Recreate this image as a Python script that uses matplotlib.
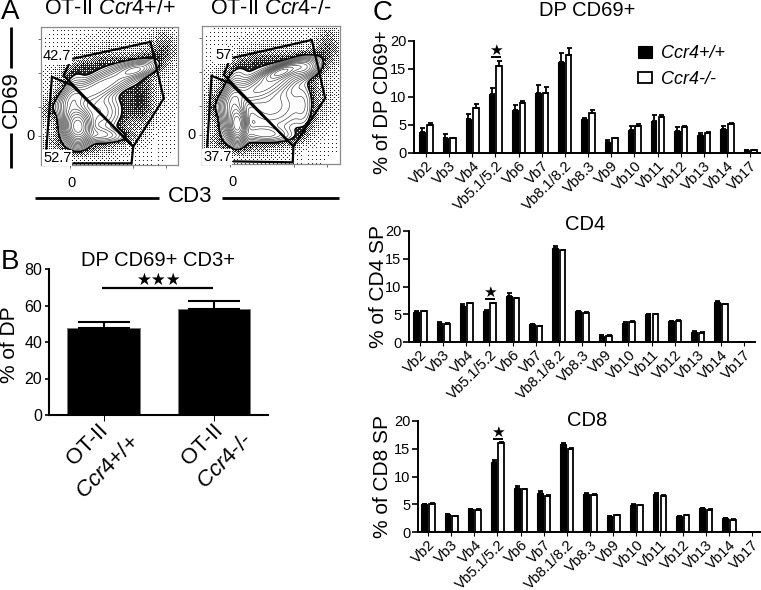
import numpy as np
import matplotlib
matplotlib.use("Agg")
import matplotlib.pyplot as plt
from matplotlib.transforms import ScaledTranslation

W, H = 761, 590

plt.rcParams["font.family"] = ["Liberation Sans", "DejaVu Sans"]
plt.rcParams["mathtext.fontset"] = "custom"
plt.rcParams["mathtext.rm"] = "Liberation Sans"
plt.rcParams["mathtext.it"] = "Liberation Sans:italic"

# ---- panel A: gates (percent of plot width / height) ----
gate_hi_wt = [(23.7, 77.1), (79.9, 89.2), (89.6, 48.2), (67.3, 13.3), (16.5, 65), (20.1, 72.3)]
gate_lo_wt = [(3.9, 12), (8, 63.9), (22.5, 57.8), (67.3, 13.3), (66.1, 1.2), (23.7, 1.2)]
gate_hi_ko = [(23.5, 77.1), (79.9, 89.9), (89.6, 47.7), (66.6, 12.8), (16.2, 64.6), (19.4, 73)]
gate_lo_ko = [(4.1, 12.8), (7.3, 63.9), (20.6, 58.6), (66.6, 12.8), (66.1, 1.2), (23.5, 1.9)]

# density blobs: cx, cy, sx, sy, angle, weight
blobs_wt = [(27, 28, 5, 7, 0, 1.0), (22, 42, 5, 12, -10, .2), (45, 58, 21, 5, 25, .25),
            (70, 69, 8, 3, 12, .2), (43, 22, 12, 3.5, -5, .14), (42, 38, 10, 9, 0, .14),
            (50, 52, 32, 24, 35, .03), (73, 46, 6, 11, 0, .035), (38, 72, 16, 5, 15, .025),
            (90, 87, 7, 9, 0, .03), (25, 15, 16, 6, 0, .03), (50, 50, 45, 40, 0, .012)]
blobs_ko = [(26, 29, 3.5, 7, 0, 1.0), (22, 42, 4.5, 12, -10, .3), (48, 58, 20, 5, 25, .3),
            (58, 67, 8, 2.5, 20, .5), (75, 70, 6, 4, 10, .25), (45, 22, 13, 3.5, -5, .14),
            (50, 42, 16, 12, 0, .16), (50, 52, 32, 24, 35, .03), (74, 42, 4, 12, 0, .05),
            (38, 72, 16, 5, 15, .025), (92, 88, 6, 9, 0, .03), (25, 15, 16, 6, 0, .03),
            (50, 50, 45, 40, 0, .012)]

# ordered dither matrix used for the stippled outer events
bayer = [[0, 8, 2, 10], [12, 4, 14, 6], [3, 11, 1, 9], [15, 7, 13, 5]]

# ---- panel B ----
b_values = [47.5, 58]
b_errors = [3.5, 4.5]

# ---- panel C ----
vb = ["Vb2", "Vb3", "Vb4", "Vb5.1/5.2", "Vb6", "Vb7", "Vb8.1/8.2", "Vb8.3", "Vb9",
      "Vb10", "Vb11", "Vb12", "Vb13", "Vb14", "Vb17"]

dp_wt = [3.8, 2.7, 6.1, 10.6, 7.7, 10.8, 16.2, 6, 2, 4.1, 5.8, 4, 3.3, 4.3, 0.5]
dp_ko = [5, 2.6, 8, 15.5, 9, 10.8, 17.5, 7.2, 2.6, 4.8, 6.5, 4.6, 3.5, 5.1, 0.5]
dp_wt_err = [.7, .7, .9, 1, .8, 1.4, 1.7, .2, .3, .7, .9, .7, .3, .6, .1]
dp_ko_err = [.3, .1, .7, 1, .3, .9, 1.2, .4, .1, .3, .2, .2, .2, .2, .1]

cd4_wt = [5.4, 3.5, 6.5, 5.6, 8.2, 3.2, 17, 5.5, 1.1, 3.5, 5, 3.7, 1.8, 7.2, 0]
cd4_ko = [5.5, 3.3, 7, 7, 7.9, 2.8, 16.5, 5.3, 1.1, 3.6, 5, 3.8, 1.7, 6.8, 0]
cd4_wt_err = [.1, .1, .4, .1, .6, .1, .3, .1, .1, .1, .1, .1, .1, .2, 0]
cd4_ko_err = [.1, .1, .1, .1, .1, .1, .1, .1, .1, .1, .1, .1, .1, .1, 0]

cd8_wt = [5, 3.2, 4.1, 12.6, 8, 7.1, 15.8, 6.9, 2.8, 4.8, 6.8, 2.8, 4.3, 2.5, 0]
cd8_ko = [5.1, 2.8, 4, 16, 7.7, 6.5, 15, 6.7, 3, 4.8, 6.4, 3, 4, 2.2, 0]
cd8_wt_err = [.1, .1, .1, .4, .2, .3, .3, .1, .1, .3, .2, .1, .1, .1, 0]
cd8_ko_err = [.1, .1, .1, .2, .1, .1, .2, .1, .1, .1, .2, .1, .1, .1, 0]


def px_axes(fig, left, top, right, bottom):
    return fig.add_axes([left / W, 1 - bottom / H, (right - left) / W, (bottom - top) / H])


def density(blobs, n=140):
    xx, yy = np.meshgrid(np.linspace(0, 100, n), np.linspace(0, 100, n))
    z = np.zeros_like(xx)
    for cx, cy, sx, sy, ang, w in blobs:
        t = np.deg2rad(ang)
        u = (xx - cx) * np.cos(t) + (yy - cy) * np.sin(t)
        v = -(xx - cx) * np.sin(t) + (yy - cy) * np.cos(t)
        z += w * np.exp(-0.5 * ((u / sx) ** 2 + (v / sy) ** 2))
    return xx, yy, z


def flow_panel(ax, blobs, gate_hi, gate_lo):
    outer = .07
    # stipple: dithered events below the outermost contour
    xx, yy, z = density(blobs)
    thresh = np.tile((np.array(bayer) + .5) / 16, (35, 35))
    dots = ((z / outer) ** 1.3 > thresh) & (z < outer)
    ax.imshow(dots, origin="lower", extent=(0, 100, 0, 100), cmap="gray_r", vmin=0, vmax=1.15,
              interpolation="nearest", aspect="auto")
    xx, yy, z = density(blobs, 300)
    ax.contour(xx, yy, z, levels=np.geomspace(outer, .95, 15), colors="#222222", linewidths=0.4)
    ax.contour(xx, yy, z, levels=[outer], colors="black", linewidths=1.0)
    hx, hy = zip(*gate_hi)
    ax.plot(hx, hy, color="black", lw=1.6, solid_joinstyle="miter")
    lx, ly = zip(*gate_lo)
    ax.plot(lx, ly, color="black", lw=1.6, solid_joinstyle="miter")
    ax.set_xlim(0, 100)
    ax.set_ylim(0, 100)
    ax.set_xticks([21, 67, 91])
    ax.set_yticks([21, 42, 67, 91])
    ax.set_xticklabels([])
    ax.set_yticklabels([])
    ax.tick_params(length=2, width=0.6, color="#555555")
    for s in ax.spines.values():
        s.set_color("#8a8a8a")
        s.set_linewidth(0.9)


def vb_panel(fig, box, wt, ko, wt_err, ko_err, x0):
    left, top, right, bottom = box
    ax = px_axes(fig, left, top, right, bottom)
    ax.patch.set_alpha(0)
    x = np.arange(len(vb))
    step = 23.15
    off = 0.165
    w = 0.24
    ekw = dict(ecolor="black", elinewidth=1.3, capsize=1.8, capthick=1.3)
    ax.bar(x - off, wt, w, color="black", edgecolor="black", lw=0.8,
           yerr=[np.zeros(15), wt_err], error_kw=ekw, label="Ccr4+/+")
    ax.bar(x + off, ko, w, color="white", edgecolor="black", lw=1.3,
           yerr=[np.zeros(15), ko_err], error_kw=ekw, label="Ccr4-/-")
    ax.set_xlim(-(x0 - left) / step, (right - x0) / step)
    ax.set_ylim(0, 20)
    ax.set_yticks([0, 5, 10, 15, 20])
    ax.set_xticks(x)
    ax.set_xticklabels(vb, rotation=45, ha="right", rotation_mode="anchor", fontsize=10.6)
    shift = ScaledTranslation(5 / 100, 0, fig.dpi_scale_trans)
    for t in ax.get_xticklabels():
        t.set_transform(t.get_transform() + shift)
    ax.tick_params(axis="y", labelsize=10.5, length=4, width=1.2, pad=1.5)
    ax.tick_params(axis="x", length=3, width=0.8, pad=1)
    for s in ("top", "right"):
        ax.spines[s].set_visible(False)
    for s in ("left", "bottom"):
        ax.spines[s].set_linewidth(1.4)
    return ax


def main():
    fig = plt.figure(figsize=(W / 100, H / 100), dpi=100)

    # panel A
    ax1 = px_axes(fig, 41, 27, 178, 165)
    flow_panel(ax1, blobs_wt, gate_hi_wt, gate_lo_wt)
    ax2 = px_axes(fig, 201.5, 26, 339.5, 164)
    flow_panel(ax2, blobs_ko, gate_hi_ko, gate_lo_ko)

    # panel B
    axb = px_axes(fig, 49, 269, 268, 415)
    axb.patch.set_alpha(0)
    axb.bar([1, 2], b_values, 0.66, color="black", edgecolor="#777777", lw=0.6,
            yerr=[[0, 0], b_errors],
            error_kw=dict(ecolor="black", elinewidth=1.5, capsize=18.5, capthick=1.5))
    axb.set_xlim(1 - 54.5 / 110.5, 2 + 54 / 110.5)
    axb.set_ylim(0, 80)
    axb.set_yticks([0, 20, 40, 60, 80])
    axb.set_xticks([1, 2])
    axb.set_xticklabels([])
    axb.tick_params(axis="y", labelsize=11.5, length=3, width=1.2, pad=2)
    axb.tick_params(axis="x", length=4, width=0.7)
    for s in ("top", "right"):
        axb.spines[s].set_visible(False)
    for s in ("left", "bottom"):
        axb.spines[s].set_linewidth(1.5)

    # panel C
    axc1 = vb_panel(fig, (414, 41, 760, 153), dp_wt, dp_ko, dp_wt_err, dp_ko_err, 426)
    vb_panel(fig, (409, 231, 755, 342), cd4_wt, cd4_ko, cd4_wt_err, cd4_ko_err, 420)
    vb_panel(fig, (418, 421, 760, 532), cd8_wt, cd8_ko, cd8_wt_err, cd8_ko_err, 428)
    axc1.legend(loc="upper left", bbox_to_anchor=((638 - 414) / 346, .96), frameon=False,
                prop=dict(style="italic", size=13), handlelength=0.8, handleheight=0.6,
                handletextpad=0.45, labelspacing=0.45, borderpad=0, borderaxespad=0)

    # overlay in pixel coordinates for the free labels
    ov = fig.add_axes([0, 0, 1, 1])
    ov.set_xlim(0, W)
    ov.set_ylim(H, 0)
    ov.axis("off")
    ov.patch.set_alpha(0)

    def label(x, y, s, size=14.5, **kw):
        kw.setdefault("ha", "center")
        kw.setdefault("va", "center")
        ov.text(x, y, s, fontsize=size, **kw)

    def rule(x0, y0, x1, y1, lw=2.0):
        ov.plot([x0, x1], [y0, y1], color="black", lw=lw, solid_capstyle="butt")

    label(1, 12, "A", size=20, ha="left")
    label(1, 262, "B", size=20, ha="left")
    label(373, 13, "C", size=20, ha="left")

    label(110, 9, "OT-II $Ccr4$+/+", size=15.5)
    label(271, 9, "OT-II $Ccr4$-/-", size=15.5)
    label(11, 100, "CD69", size=16, rotation=90)
    rule(11, 27, 11, 68)
    rule(11, 133, 11, 168)
    label(190, 197, "CD3", size=16)
    rule(35, 198, 159, 198)
    rule(222, 198, 339, 198)

    for x, y, s in [(43, 56, "42.7"), (43, 158, "52.7"), (215, 55, "57"), (203, 157, "37.7"),
                    (26, 136, "0"), (187, 135, "0"), (67, 183, "0"), (228, 182, "0")]:
        label(x, y, s, size=10.5, ha="left", bbox=dict(fc="white", ec="none", pad=0.6))

    label(158, 260, "DP CD69+ CD3+", size=14.5)
    label(159, 280, "★★★", size=12, family=["DejaVu Sans"])
    rule(102, 288, 213, 288, lw=1.6)
    label(10, 345, "% of DP", size=15, rotation=90)
    for x, y, s in [(98, 420, "OT-II"), (213, 420, "OT-II"),
                    (129, 432, "$Ccr4$+/+"), (242, 430, "$Ccr4$-/-")]:
        ov.text(x, y, s, fontsize=16, rotation=45, ha="right", va="top", rotation_mode="anchor")

    label(587, 11, "DP CD69+", size=14.5)
    label(585, 225, "CD4", size=14.5)
    label(587, 420, "CD8", size=14.5)
    label(382, 102, "% of DP CD69+", size=14.7, rotation=90)
    label(379, 287, "% of CD4 SP", size=15, rotation=90)
    label(382, 476, "% of CD8 SP", size=15, rotation=90)

    for x, y in [(496, 50), (490, 292), (498, 432)]:
        label(x, y, "★", size=11, family=["DejaVu Sans"])
        rule(x - 5, y + 7, x + 5, y + 7, lw=1.4)

    fig.savefig("out.png", dpi=100)


if __name__ == "__main__":
    main()
